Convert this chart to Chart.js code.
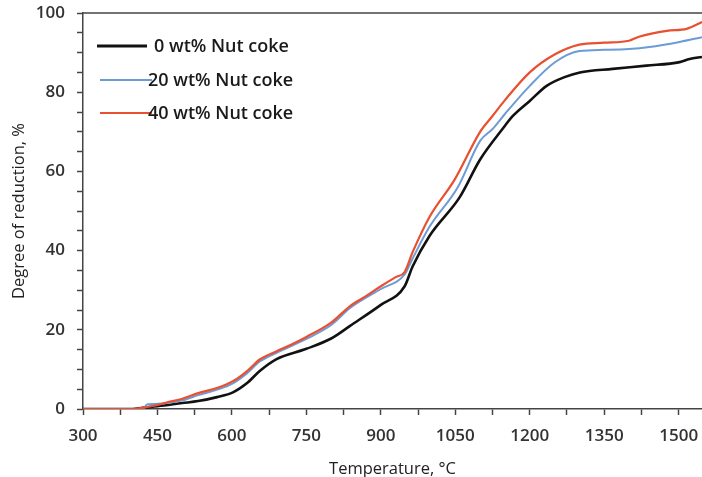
<!DOCTYPE html>
<html>
<head>
<meta charset="utf-8">
<script src="https://cdn.jsdelivr.net/npm/chart.js@4.4.1/dist/chart.umd.min.js"></script>
<style>
  html, body { margin: 0; padding: 0; background: #fff; }
  #wrap { width: 702px; height: 477px; position: relative; }
</style>
</head>
<body>
<div id="wrap"><canvas id="myChart"></canvas></div>
<script>
// data
const seriesLabels = ['0 wt% Nut coke', '20 wt% Nut coke', '40 wt% Nut coke'];

const temp0 = [300, 400, 420, 450, 500, 532, 570, 602, 630, 656, 690, 750, 800, 838, 900, 948, 964, 998, 1059, 1100, 1145, 1166, 1200, 1234, 1270, 1301, 1367, 1435, 1502, 1522, 1547];
const deg0  = [0, 0, 0.3, 0.7, 1.5, 2, 3, 4.2, 6.5, 9.6, 12.6, 15.2, 17.8, 21, 26.3, 31, 36, 43.7, 53.5, 63, 70.7, 74, 77.8, 81.6, 83.8, 85, 85.9, 86.7, 87.6, 88.4, 88.9];

const temp20 = [300, 420, 430, 450, 500, 532, 570, 602, 630, 656, 690, 750, 800, 838, 900, 948, 964, 998, 1055, 1100, 1125, 1150, 1200, 1250, 1300, 1350, 1400, 1441, 1502, 1547];
const deg20  = [0, 0, 1.2, 1.3, 2.2, 3.5, 4.9, 6.5, 9, 12, 14.2, 17.7, 21.2, 25.5, 30.3, 34, 38, 46, 56, 67.7, 70.7, 74.5, 81.6, 87.5, 90.4, 90.7, 90.9, 91.4, 92.7, 93.9];

const temp40 = [300, 400, 430, 450, 470, 500, 532, 570, 602, 630, 656, 690, 720, 750, 800, 838, 870, 900, 930, 948, 964, 998, 1049, 1100, 1125, 1150, 1200, 1250, 1300, 1350, 1400, 1420, 1476, 1516, 1547];
const deg40  = [0, 0, 0.5, 1, 1.7, 2.6, 4, 5.3, 7, 9.5, 12.5, 14.6, 16.3, 18.2, 21.8, 26, 28.5, 31, 33.3, 34.6, 39.6, 48.5, 58, 70, 74, 78, 85, 89.5, 92, 92.5, 93, 94, 95.5, 96, 97.7];

const xMajorTicks = [300, 450, 600, 750, 900, 1050, 1200, 1350, 1500];
const yMajorTicks = [0, 20, 40, 60, 80, 100];

const lineColors = ['#111111', '#6c9bd6', '#e8502f'];
const lineWidths = [2.6, 2, 2.2];

function toPoints(xs, ys) {
    return xs.map((x, i) => ({ x: x, y: ys[i] }));
}

// legend drawn inside the plot, plus the top frame line
const framePlugin = {
    id: 'frame',
    afterDraw(chart) {
        const { ctx, chartArea } = chart;
        ctx.save();
        ctx.strokeStyle = '#444';
        ctx.lineWidth = 1.5;
        ctx.beginPath();
        ctx.moveTo(chartArea.left, chartArea.top);
        ctx.lineTo(chartArea.right, chartArea.top);
        ctx.stroke();

        const rows = [46, 80, 113];
        chart.data.datasets.forEach((ds, i) => {
            const y = rows[i];
            ctx.strokeStyle = ds.borderColor;
            ctx.lineWidth = i === 0 ? 3 : 2;
            ctx.beginPath();
            ctx.moveTo(i === 0 ? 97 : 100, y);
            ctx.lineTo(i === 0 ? 147 : 152, y);
            ctx.stroke();
            ctx.fillStyle = '#1a1a1a';
            ctx.font = '600 18px "Open Sans"';
            ctx.textBaseline = 'middle';
            ctx.fillText(ds.label, i === 0 ? 154 : 148, y + 1);
        });
        ctx.restore();
    }
};

const ctx = document.getElementById('myChart').getContext('2d');
const datasets = [
    { label: seriesLabels[0], data: toPoints(temp0, deg0), order: 3 },
    { label: seriesLabels[1], data: toPoints(temp20, deg20), order: 2 },
    { label: seriesLabels[2], data: toPoints(temp40, deg40), order: 1 }
].map((ds, i) => Object.assign(ds, {
    borderColor: lineColors[i],
    backgroundColor: lineColors[i],
    borderWidth: lineWidths[i],
    pointRadius: 0,
    fill: false,
    cubicInterpolationMode: 'monotone'
}));

const tickFont = { family: '"Open Sans"', size: 17, weight: '600' };
const titleFont = { family: '"Open Sans"', size: 16.5, lineHeight: 1 };

const myChart = new Chart(ctx, {
    type: 'line',
    data: { datasets: datasets },
    options: {
        responsive: true,
        maintainAspectRatio: false,
        animation: false,
        layout: { padding: { top: 13, right: 0, left: 0, bottom: 0 } },
        plugins: {
            legend: { display: false },
            tooltip: { enabled: false }
        },
        scales: {
            x: {
                type: 'linear',
                min: 300,
                max: 1547,
                afterFit(scale) {
                    scale.height = 68;
                    scale.paddingLeft = 0;
                    scale.paddingRight = 0;
                },
                border: { color: '#444', width: 1.5 },
                grid: { drawOnChartArea: false, tickLength: 6, color: '#444', tickWidth: 1.5 },
                ticks: {
                    stepSize: 75,
                    includeBounds: false,
                    autoSkip: false,
                    maxRotation: 0,
                    padding: 11,
                    color: '#333',
                    font: tickFont,
                    callback: (v) => xMajorTicks.includes(v) ? String(v) : ''
                },
                title: {
                    display: true,
                    text: 'Temperature, \u00B0C',
                    color: '#222',
                    font: titleFont,
                    padding: { top: 0, bottom: -1 }
                }
            },
            y: {
                min: 0,
                max: 100,
                afterFit(scale) {
                    scale.width = 83;
                    scale.paddingTop = 0;
                    scale.paddingBottom = 0;
                },
                border: { color: '#444', width: 1.5 },
                grid: { drawOnChartArea: false, tickLength: 6, color: '#444', tickWidth: 1.5 },
                ticks: {
                    stepSize: 5,
                    autoSkip: false,
                    padding: 12,
                    color: '#333',
                    font: tickFont,
                    callback: (v) => yMajorTicks.includes(v) ? String(v) : ''
                },
                title: {
                    display: true,
                    text: 'Degree of reduction, %',
                    color: '#222',
                    font: titleFont,
                    padding: { top: 11, bottom: 0 }
                }
            }
        }
    },
    plugins: [framePlugin]
});
</script>
</body>
</html>
